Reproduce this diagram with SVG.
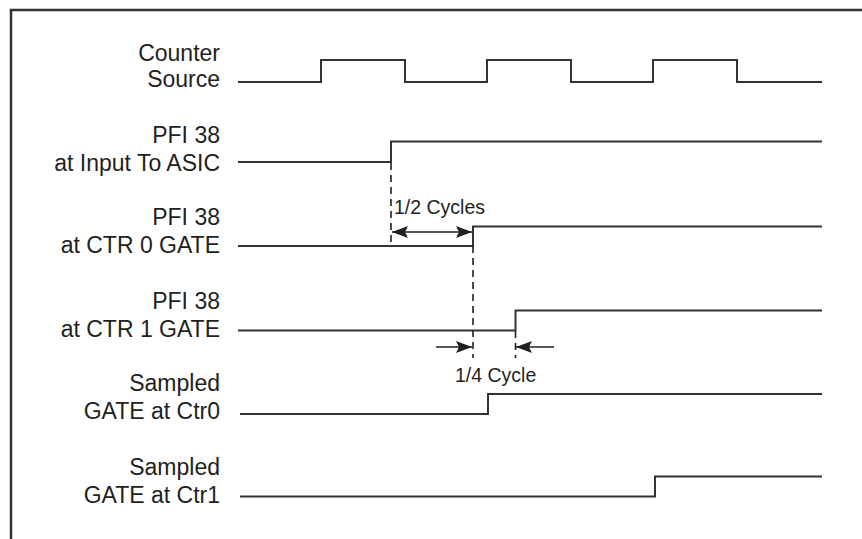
<svg xmlns="http://www.w3.org/2000/svg" width="862" height="539" viewBox="0 0 862 539">
<style>
.lbl{font-family:"Liberation Sans",Arial,sans-serif;font-size:23px;fill:#231f20;text-anchor:end}
.note{font-family:"Liberation Sans",Arial,sans-serif;font-size:19.5px;fill:#231f20}
.sig{fill:none;stroke:#333;stroke-width:2;stroke-linejoin:miter}
.dash{fill:none;stroke:#231f20;stroke-width:1.6;stroke-dasharray:7,5}
.arr{fill:none;stroke:#231f20;stroke-width:1.6}
</style>
<defs>
<marker id="ahb" viewBox="0 0 16 12" refX="16" refY="6" markerWidth="16" markerHeight="12" markerUnits="userSpaceOnUse" orient="auto-start-reverse">
<path d="M0,0 L16,6 L0,12 L3,6 Z" fill="#231f20"/>
</marker>
</defs>
<rect width="862" height="539" fill="#fff"/>
<path d="M11,539 L11,10 L862,10" fill="none" stroke="#333" stroke-width="2.5"/>

<g id="counter-source">
<text class="lbl" x="220" y="61">Counter</text>
<text class="lbl" x="220" y="87">Source</text>
<path class="sig" d="M238,82 H321 V60 H405 V82 H487 V60 H571 V82 H653 V60 H737 V82 H822"/>
</g>
<g id="pfi-input">
<text class="lbl" x="220" y="143">PFI 38</text>
<text class="lbl" x="220" y="171">at Input To ASIC</text>
<path class="sig" d="M238,162 H391 V141.5 H822"/>
</g>
<g id="pfi-ctr0">
<text class="lbl" x="220" y="225">PFI 38</text>
<text class="lbl" x="220" y="253">at CTR 0 GATE</text>
<path class="sig" d="M238,246 H473 V226.5 H822"/>
</g>
<g id="pfi-ctr1">
<text class="lbl" x="220" y="309">PFI 38</text>
<text class="lbl" x="220" y="337">at CTR 1 GATE</text>
<path class="sig" d="M238,330.5 H515.5 V310.5 H822"/>
</g>
<g id="sampled-ctr0">
<text class="lbl" x="220" y="391">Sampled</text>
<text class="lbl" x="220" y="419">GATE at Ctr0</text>
<path class="sig" d="M240,414 H488 V394 H822"/>
</g>
<g id="sampled-ctr1">
<text class="lbl" x="220" y="475">Sampled</text>
<text class="lbl" x="220" y="503">GATE at Ctr1</text>
<path class="sig" d="M240,496.5 H655 V476.5 H822"/>
</g>

<g id="connectors">
<line class="dash" x1="391" y1="163" x2="391" y2="246"/>
<line class="dash" x1="473" y1="246" x2="473" y2="358"/>
<line class="dash" x1="515.5" y1="331" x2="515.5" y2="358"/>
<line class="arr" x1="392" y1="232" x2="472" y2="232" marker-start="url(#ahb)" marker-end="url(#ahb)"/>
<line class="arr" x1="436" y1="347" x2="472" y2="347" marker-end="url(#ahb)"/>
<line class="arr" x1="554" y1="347" x2="516" y2="347" marker-end="url(#ahb)"/>
<text class="note" x="394" y="214">1/2 Cycles</text>
<text class="note" x="455" y="382">1/4 Cycle</text>
</g>
</svg>
